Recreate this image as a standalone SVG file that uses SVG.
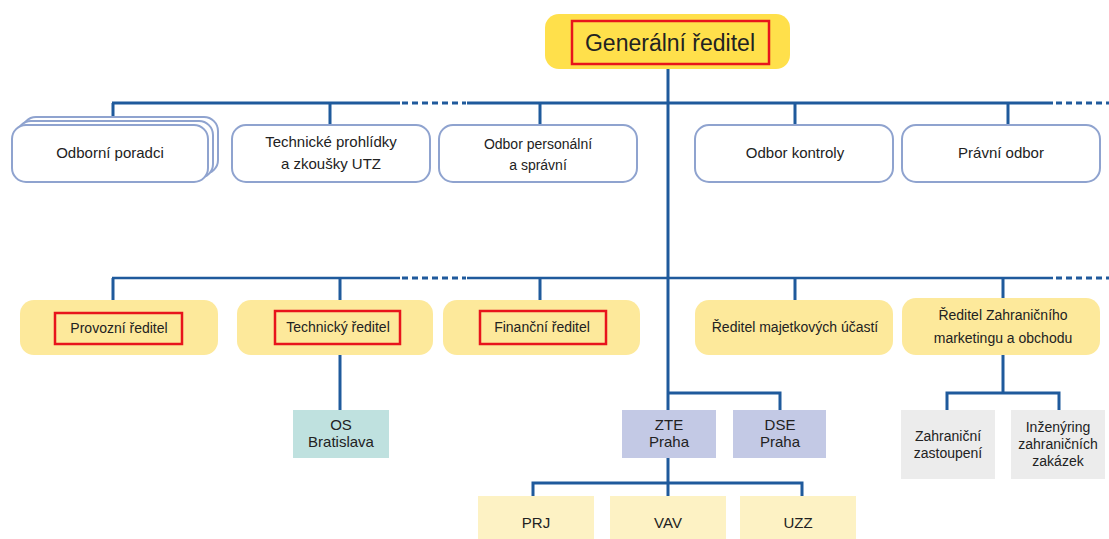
<svg xmlns="http://www.w3.org/2000/svg" width="1109" height="539" viewBox="0 0 1109 539">
<style>
text{font-family:"Liberation Sans",Arial,sans-serif;fill:#222;text-anchor:middle}
.w{fill:#fff;stroke:#8fa3cf;stroke-width:2}
.y{fill:#fde99b}
.red{fill:none;stroke:#e8141c;stroke-width:2.5}
.ln{fill:none;stroke:#1f5a9c;stroke-width:3}
.ln2{fill:none;stroke:#1f5a9c;stroke-width:2.5}
.dash{fill:none;stroke:#1f5a9c;stroke-width:3;stroke-dasharray:6 4}
.f15{font-size:15px}
.f14{font-size:14px}
</style>
<rect width="1109" height="539" fill="#fff"/>
<g id="connectors">
<line class="ln" x1="668" y1="68" x2="668" y2="410"/>
<line class="ln" x1="112" y1="103" x2="400" y2="103"/>
<line class="dash" x1="402" y1="103" x2="466" y2="103"/>
<line class="ln" x1="467" y1="103" x2="1053" y2="103"/>
<line class="dash" x1="1056" y1="103" x2="1109" y2="103"/>
<path class="ln" d="M113 103V120M330 103V125M540 103V125M795 103V125M1008 103V125"/>
<line class="ln2" x1="112" y1="278" x2="400" y2="278"/>
<line class="dash" x1="402" y1="278" x2="466" y2="278" stroke-width="2.5"/>
<line class="ln2" x1="467" y1="278" x2="1053" y2="278"/>
<line class="dash" x1="1056" y1="278" x2="1109" y2="278" stroke-width="2.5"/>
<path class="ln" d="M113 278V300M340 278V300M540 278V300M795 278V300M1003 278V298"/>
<path class="ln" d="M340 355V410"/>
<path class="ln" d="M668 393H780V410"/>
<path class="ln" d="M668 458V496M533 496V483H802V496"/>
<path class="ln" d="M1003 355V393M947 410V393H1059V410"/>
</g>
<g id="generalni-reditel">
<rect x="545" y="14" width="245" height="55" rx="14" fill="#ffe04b"/>
<rect class="red" x="572" y="21" width="197" height="43"/>
<text x="670" y="51" font-size="23">Generální ředitel</text>
</g>
<g id="odborni-poradci">
<rect class="w" x="22" y="117" width="196" height="57" rx="14"/>
<rect class="w" x="17" y="121" width="196" height="57" rx="14"/>
<rect class="w" x="12" y="125" width="196" height="57" rx="14"/>
<text class="f15" x="110" y="158">Odborní poradci</text>
</g>
<g id="technicke-prohlidky">
<rect class="w" x="232" y="125" width="198" height="57" rx="14"/>
<text class="f15" x="331" y="147">Technické prohlídky</text>
<text class="f15" x="331" y="169">a zkoušky UTZ</text>
</g>
<g id="odbor-personalni">
<rect class="w" x="439" y="125" width="198" height="57" rx="14"/>
<text class="f14" x="538" y="149">Odbor personální</text>
<text class="f14" x="538" y="170">a správní</text>
</g>
<g id="odbor-kontroly">
<rect class="w" x="695" y="125" width="198" height="57" rx="14"/>
<text class="f15" x="795" y="158">Odbor kontroly</text>
</g>
<g id="pravni-odbor">
<rect class="w" x="902" y="125" width="198" height="57" rx="14"/>
<text class="f15" x="1001" y="158">Právní odbor</text>
</g>
<g id="provozni-reditel">
<rect class="y" x="20" y="300" width="198" height="55" rx="14"/>
<rect class="red" x="55" y="313" width="127" height="31"/>
<text class="f14" x="119" y="333">Provozní ředitel</text>
</g>
<g id="technicky-reditel">
<rect class="y" x="237" y="300" width="196" height="55" rx="14"/>
<rect class="red" x="275" y="311" width="125" height="33"/>
<text class="f14" x="338" y="332">Technický ředitel</text>
</g>
<g id="financni-reditel">
<rect class="y" x="443" y="300" width="197" height="55" rx="14"/>
<rect class="red" x="480" y="311" width="126" height="33"/>
<text class="f14" x="542" y="332">Finanční ředitel</text>
</g>
<g id="reditel-majetkovych">
<rect class="y" x="695" y="300" width="198" height="55" rx="14"/>
<text class="f14" x="795" y="332">Ředitel majetkových účastí</text>
</g>
<g id="reditel-zahranicniho">
<rect class="y" x="902" y="298" width="198" height="57" rx="14"/>
<text class="f14" x="1003" y="320">Ředitel Zahraničního</text>
<text class="f14" x="1003" y="343">marketingu a obchodu</text>
</g>
<g id="os-bratislava">
<rect x="293" y="410" width="96" height="48" fill="#bfe1df"/>
<text class="f15" x="341" y="430">OS</text>
<text class="f15" x="341" y="447">Bratislava</text>
</g>
<g id="zte-praha">
<rect x="622" y="410" width="94" height="48" fill="#c3c9e5"/>
<text class="f15" x="669" y="430">ZTE</text>
<text class="f15" x="669" y="447">Praha</text>
</g>
<g id="dse-praha">
<rect x="733" y="410" width="93" height="48" fill="#c3c9e5"/>
<text class="f15" x="780" y="430">DSE</text>
<text class="f15" x="780" y="447">Praha</text>
</g>
<g id="zahranicni-zastoupeni">
<rect x="901" y="410" width="94" height="69" fill="#ececec"/>
<text class="f14" x="948" y="441">Zahraniční</text>
<text class="f14" x="948" y="458">zastoupení</text>
</g>
<g id="inzenyring">
<rect x="1011" y="410" width="94" height="69" fill="#ececec"/>
<text class="f14" x="1058" y="432">Inženýring</text>
<text class="f14" x="1058" y="449">zahraničních</text>
<text class="f14" x="1058" y="466">zakázek</text>
</g>
<g id="prj">
<rect x="478" y="496" width="116" height="43" fill="#fdf2c4"/>
<text class="f15" x="536" y="528">PRJ</text>
</g>
<g id="vav">
<rect x="610" y="496" width="116" height="43" fill="#fdf2c4"/>
<text class="f15" x="668" y="528">VAV</text>
</g>
<g id="uzz">
<rect x="740" y="496" width="116" height="43" fill="#fdf2c4"/>
<text class="f15" x="798" y="528">UZZ</text>
</g>
</svg>
